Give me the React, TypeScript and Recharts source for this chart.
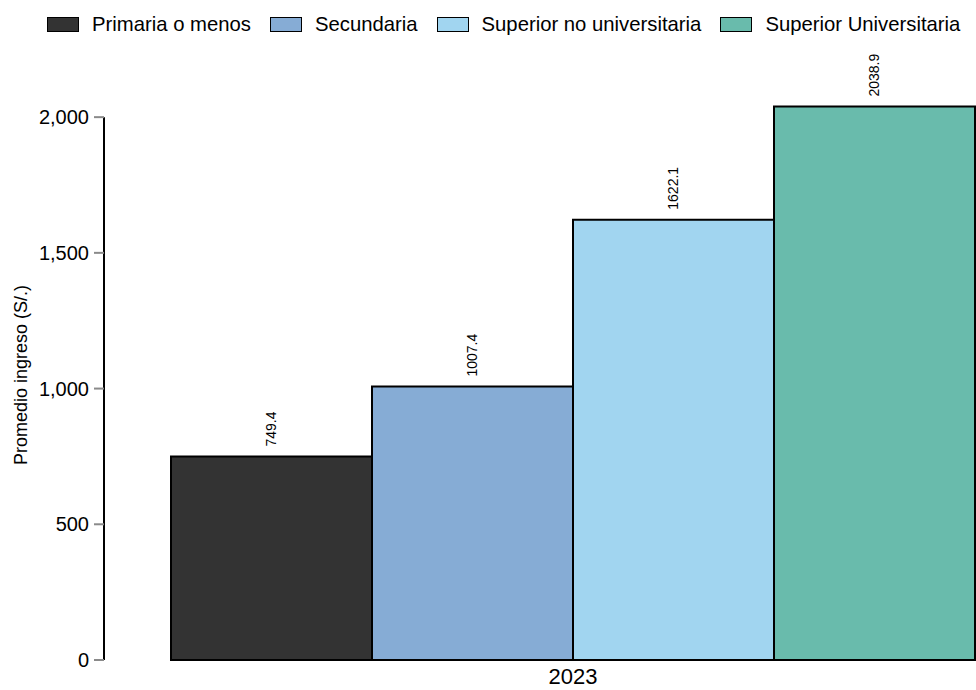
import React from "react";
import {
  Bar,
  BarChart,
  LabelList,
  Legend,
  ReferenceLine,
  XAxis,
  YAxis,
} from "recharts";

const years = ["2023"];
const niveles = [
  "Primaria o menos",
  "Secundaria",
  "Superior no universitaria",
  "Superior Universitaria",
];
const promedio = [749.4, 1007.4, 1622.1, 2038.9];
const colores = ["#333333", "#86ACD5", "#A1D5F0", "#69BBAC"];
const yTicks = [0, 500, 1000, 1500, 2000];

const FONT = "'Liberation Sans', Arial, sans-serif";

const data = years.map((year) => {
  const row: Record<string, string | number> = { year };
  niveles.forEach((_, i) => {
    row[`s${i}`] = promedio[i];
  });
  return row;
});

function ValueLabel(props: any) {
  const { x, y, width, value } = props;
  const cx = x + width / 2;
  const ty = y - 10;
  return (
    <text
      x={cx}
      y={ty}
      transform={`rotate(-90, ${cx}, ${ty})`}
      textAnchor="start"
      dominantBaseline="central"
      fontSize={14}
      fontFamily={FONT}
      fill="#000"
    >
      {Number(value).toFixed(1)}
    </text>
  );
}

function LegendBox() {
  return (
    <div
      style={{
        display: "flex",
        alignItems: "center",
        fontFamily: FONT,
        fontSize: 20.3,
        color: "#000",
        whiteSpace: "nowrap",
      }}
    >
      {niveles.map((n, i) => (
        <div key={n} style={{ display: "flex", alignItems: "center", marginRight: 19 }}>
          <span
            style={{
              width: 30,
              height: 13,
              background: colores[i],
              border: "1.5px solid #000",
              marginRight: 13,
              display: "inline-block",
            }}
          />
          <span>{n}</span>
        </div>
      ))}
    </div>
  );
}

export default function App() {
  return (
    <div
      style={{
        position: "absolute",
        left: 0,
        top: 0,
        width: 976,
        height: 690,
        overflow: "hidden",
        background: "#fff",
      }}
    >
      {/* the panel runs past the right edge, as in the source image */}
      <BarChart
        width={1042}
        height={690}
        data={data}
        margin={{ top: 90, right: 0, left: 0, bottom: 0 }}
        barCategoryGap={67}
        barGap={0}
      >
        <XAxis
          dataKey="year"
          axisLine={false}
          tickLine={false}
          height={30}
          tick={{ fontSize: 22, fill: "#000", fontFamily: FONT }}
        />
        <YAxis
          width={104}
          domain={[0, 2100]}
          ticks={yTicks}
          axisLine={false}
          tickSize={10}
          tickMargin={5}
          tickLine={{ stroke: "#8a8a8a", strokeWidth: 2 }}
          tickFormatter={(v) => v.toLocaleString("en-US")}
          tick={{ fontSize: 20, fill: "#000", fontFamily: FONT }}
          label={{
            value: "Promedio ingreso (S/.)",
            angle: -90,
            position: "insideLeft",
            offset: 21,
            style: { textAnchor: "middle", fontSize: 18, fontFamily: FONT, fill: "#000" },
          }}
        />
        <ReferenceLine
          position="start"
          segment={[
            { x: years[0], y: yTicks[0] },
            { x: years[0], y: yTicks[yTicks.length - 1] },
          ]}
          stroke="#000"
          strokeWidth={2}
        />
        <Legend
          verticalAlign="middle"
          wrapperStyle={{ top: 13, left: 47, width: "auto" }}
          content={() => <LegendBox />}
        />
        {niveles.map((n, i) => (
          <Bar
            key={n}
            dataKey={`s${i}`}
            name={n}
            fill={colores[i]}
            stroke="#000"
            strokeWidth={2}
            isAnimationActive={false}
          >
            <LabelList dataKey={`s${i}`} content={<ValueLabel />} />
          </Bar>
        ))}
      </BarChart>
    </div>
  );
}
